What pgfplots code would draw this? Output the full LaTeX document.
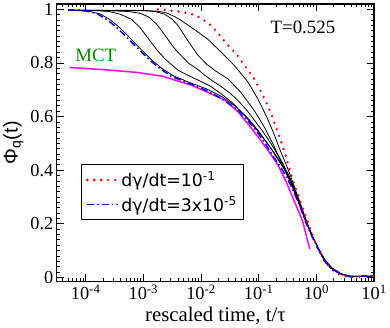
\documentclass[border=0pt]{standalone}
\usepackage{fontspec}
\setmainfont{Liberation Serif}
\setsansfont{Liberation Sans}
\newfontfamily\legfont{DejaVu Sans}
\usepackage{pgfplots}
\usepackage{pgfplotstable}
\pgfplotsset{compat=1.18}

\definecolor{mctgreen}{RGB}{0,139,0}
\definecolor{mctpink}{RGB}{255,0,255}
\definecolor{gred}{RGB}{255,0,0}
\definecolor{gblue}{RGB}{0,0,255}

% columns: lt = log10(t/tau), y = Phi_q(t)
\pgfplotstableread{
lt y
-4.276 0.783
-3.690 0.775
-3.121 0.765
-2.655 0.750
-2.453 0.736
-2.167 0.717
-1.879 0.690
-1.591 0.662
-1.362 0.619
-1.103 0.550
-0.931 0.501
-0.788 0.458
-0.672 0.421
-0.529 0.359
-0.384 0.285
-0.241 0.211
-0.115 0.106
}\mct

\pgfplotstableread{
lt y
-2.75 1.000
-2.55 0.996
-2.328 0.990
-2.091 0.978
-1.879 0.950
-1.707 0.912
-1.552 0.870
-1.384 0.832
-1.241 0.789
-1.086 0.744
-0.971 0.697
-0.862 0.650
-0.771 0.602
-0.685 0.552
-0.603 0.501
-0.529 0.452
-0.460 0.400
-0.384 0.347
-0.298 0.297
-0.212 0.244
-0.126 0.193
-0.040 0.143
0.000 0.119
0.10 0.075
0.20 0.045
0.32 0.020
0.45 0.007
0.60 0.002
0.80 0.003
1.00 0.004
}\fast

\pgfplotstableread{
lt y
-4.30 0.998
-4.10 0.997
-3.978 0.993
-3.805 0.984
-3.633 0.962
-3.460 0.932
-3.316 0.902
-3.172 0.870
-3.029 0.840
-2.884 0.810
-2.712 0.779
-2.512 0.750
-2.224 0.725
-1.936 0.700
-1.650 0.668
-1.419 0.634
-1.190 0.585
-1.017 0.540
-0.874 0.495
-0.759 0.455
-0.586 0.400
-0.443 0.343
-0.298 0.273
-0.184 0.205
-0.069 0.149
0.047 0.100
0.133 0.063
0.247 0.035
0.419 0.012
0.591 0.002
0.707 0.003
0.85 0.006
1.00 0.006
}\slow

\pgfplotstableread{
lt y
-4.30 0.997
-3.95 0.993
-3.75 0.983
-3.58 0.962
-3.41 0.932
-3.27 0.902
-3.13 0.870
-2.99 0.840
-2.85 0.810
-2.68 0.780
-2.48 0.752
-2.20 0.727
-1.90 0.703
-1.62 0.672
-1.40 0.638
-1.17 0.590
-1.00 0.545
-0.85 0.500
-0.72 0.458
-0.56 0.405
-0.43 0.347
-0.29 0.275
-0.18 0.207
-0.065 0.150
0.05 0.100
0.14 0.062
0.25 0.035
0.42 0.013
0.60 0.004
0.80 0.003
1.00 0.004
}\ka

\pgfplotstableread{
lt y
-4.30 0.997
-3.80 0.995
-3.60 0.992
-3.40 0.982
-3.20 0.962
-3.05 0.930
-2.91 0.890
-2.77 0.850
-2.63 0.816
-2.40 0.773
-2.17 0.748
-2.05 0.736
-1.85 0.715
-1.65 0.685
-1.45 0.650
-1.25 0.605
-1.05 0.555
-0.88 0.508
-0.72 0.462
-0.56 0.408
-0.42 0.350
-0.28 0.277
-0.17 0.208
-0.06 0.150
0.05 0.101
0.14 0.063
0.25 0.036
0.42 0.013
0.60 0.004
0.80 0.004
1.00 0.005
}\kb

\pgfplotstableread{
lt y
-4.30 0.997
-3.60 0.995
-3.26 0.992
-3.05 0.985
-2.91 0.972
-2.77 0.945
-2.63 0.905
-2.50 0.865
-2.40 0.840
-2.22 0.800
-2.05 0.775
-1.94 0.755
-1.80 0.733
-1.65 0.712
-1.50 0.688
-1.36 0.660
-1.20 0.622
-1.07 0.585
-0.93 0.545
-0.79 0.500
-0.62 0.440
-0.47 0.378
-0.33 0.300
-0.20 0.220
-0.08 0.158
0.04 0.105
0.14 0.064
0.25 0.037
0.42 0.013
0.60 0.004
0.80 0.004
1.00 0.005
}\kc

\pgfplotstableread{
lt y
-4.30 0.997
-3.00 0.995
-2.80 0.992
-2.63 0.982
-2.50 0.963
-2.40 0.940
-2.22 0.880
-2.05 0.828
-1.90 0.795
-1.76 0.772
-1.53 0.740
-1.30 0.688
-1.07 0.620
-0.90 0.560
-0.73 0.488
-0.59 0.420
-0.45 0.355
-0.32 0.285
-0.20 0.218
-0.08 0.158
0.04 0.107
0.15 0.065
0.26 0.037
0.42 0.014
0.60 0.004
0.80 0.004
1.00 0.005
}\kd

\pgfplotstableread{
lt y
-4.30 0.997
-3.00 0.996
-2.75 0.993
-2.60 0.987
-2.45 0.972
-2.34 0.958
-2.22 0.940
-2.05 0.915
-1.88 0.888
-1.65 0.840
-1.42 0.790
-1.19 0.730
-1.02 0.668
-0.85 0.594
-0.73 0.532
-0.62 0.470
-0.50 0.408
-0.38 0.338
-0.26 0.262
-0.14 0.190
-0.03 0.135
0.07 0.092
0.17 0.058
0.28 0.033
0.44 0.012
0.62 0.003
0.80 0.004
1.00 0.005
}\ke

\begin{document}
\begin{tikzpicture}
\begin{axis}[
    scale only axis,
    width=319bp, height=279bp,
    xmode=log, log basis x=10,
    xmin=3.1623e-5, xmax=10,
    ymin=-0.015, ymax=1.02,
    ytick={0,0.2,0.4,0.6,0.8,1},
    yticklabels={0,0.2,0.4,0.6,0.8,1},
    minor y tick num=9,
    xticklabel={10\textsuperscript{\pgfmathparse{int(round(\tick))}\pgfmathresult}},
    tick align=inside,
    major tick length=7bp, minor tick length=3.5bp,
    every tick/.style={black, line width=0.8bp},
    axis line style={line width=1.2bp},
    tick label style={font=\fontsize{18.5}{20}\selectfont},
    xlabel={rescaled time, t/τ},
    xlabel style={font=\fontsize{21}{24}\selectfont},
    ylabel={Φ\textsubscript{q}(t)},
    ylabel style={font=\sffamily\fontsize{20}{24}\selectfont},
    legend style={at={(0.075,0.422)}, anchor=north west,
        draw=black, line width=0.8bp,
        font=\legfont\fontsize{17.5}{20}\selectfont,
        inner xsep=5bp, inner ysep=5bp, row sep=4bp,
        cells={anchor=west}},
    legend image code/.code={\draw[#1] (0bp,0bp) -- (20bp,0bp); \path (0bp,0bp) -- (31bp,0bp);},
    table/x expr={10^\thisrow{lt}},
]
\addplot[black, line width=0.8bp, forget plot] table[y=y] {\ka};
\addplot[black, line width=0.8bp, forget plot] table[y=y] {\kb};
\addplot[black, line width=0.8bp, forget plot] table[y=y] {\kc};
\addplot[black, line width=0.8bp, forget plot] table[y=y] {\kd};
\addplot[black, line width=0.8bp, forget plot] table[y=y] {\ke};
\addplot[mctpink, line width=1.5bp, forget plot] table[y=y] {\mct};
\addplot[gred, line width=2.6bp, line cap=round, dash pattern=on 0bp off 7bp] table[y=y] {\fast};
\addlegendentry{dγ/dt=10\textsuperscript{-1}}
\addplot[gblue, line width=1.5bp, dash pattern=on 7bp off 3bp on 1.5bp off 3bp] table[y=y] {\slow};
\addlegendentry{dγ/dt=3x10\textsuperscript{-5}}
\node[text=mctgreen, font=\fontsize{19}{21}\selectfont] at (axis cs:1.49e-4,0.83) {MCT};
\node[anchor=west, inner sep=0pt, font=\fontsize{19}{21}\selectfont] at (axis cs:0.16,0.933) {T=0.525};
\end{axis}
\end{tikzpicture}
\end{document}
